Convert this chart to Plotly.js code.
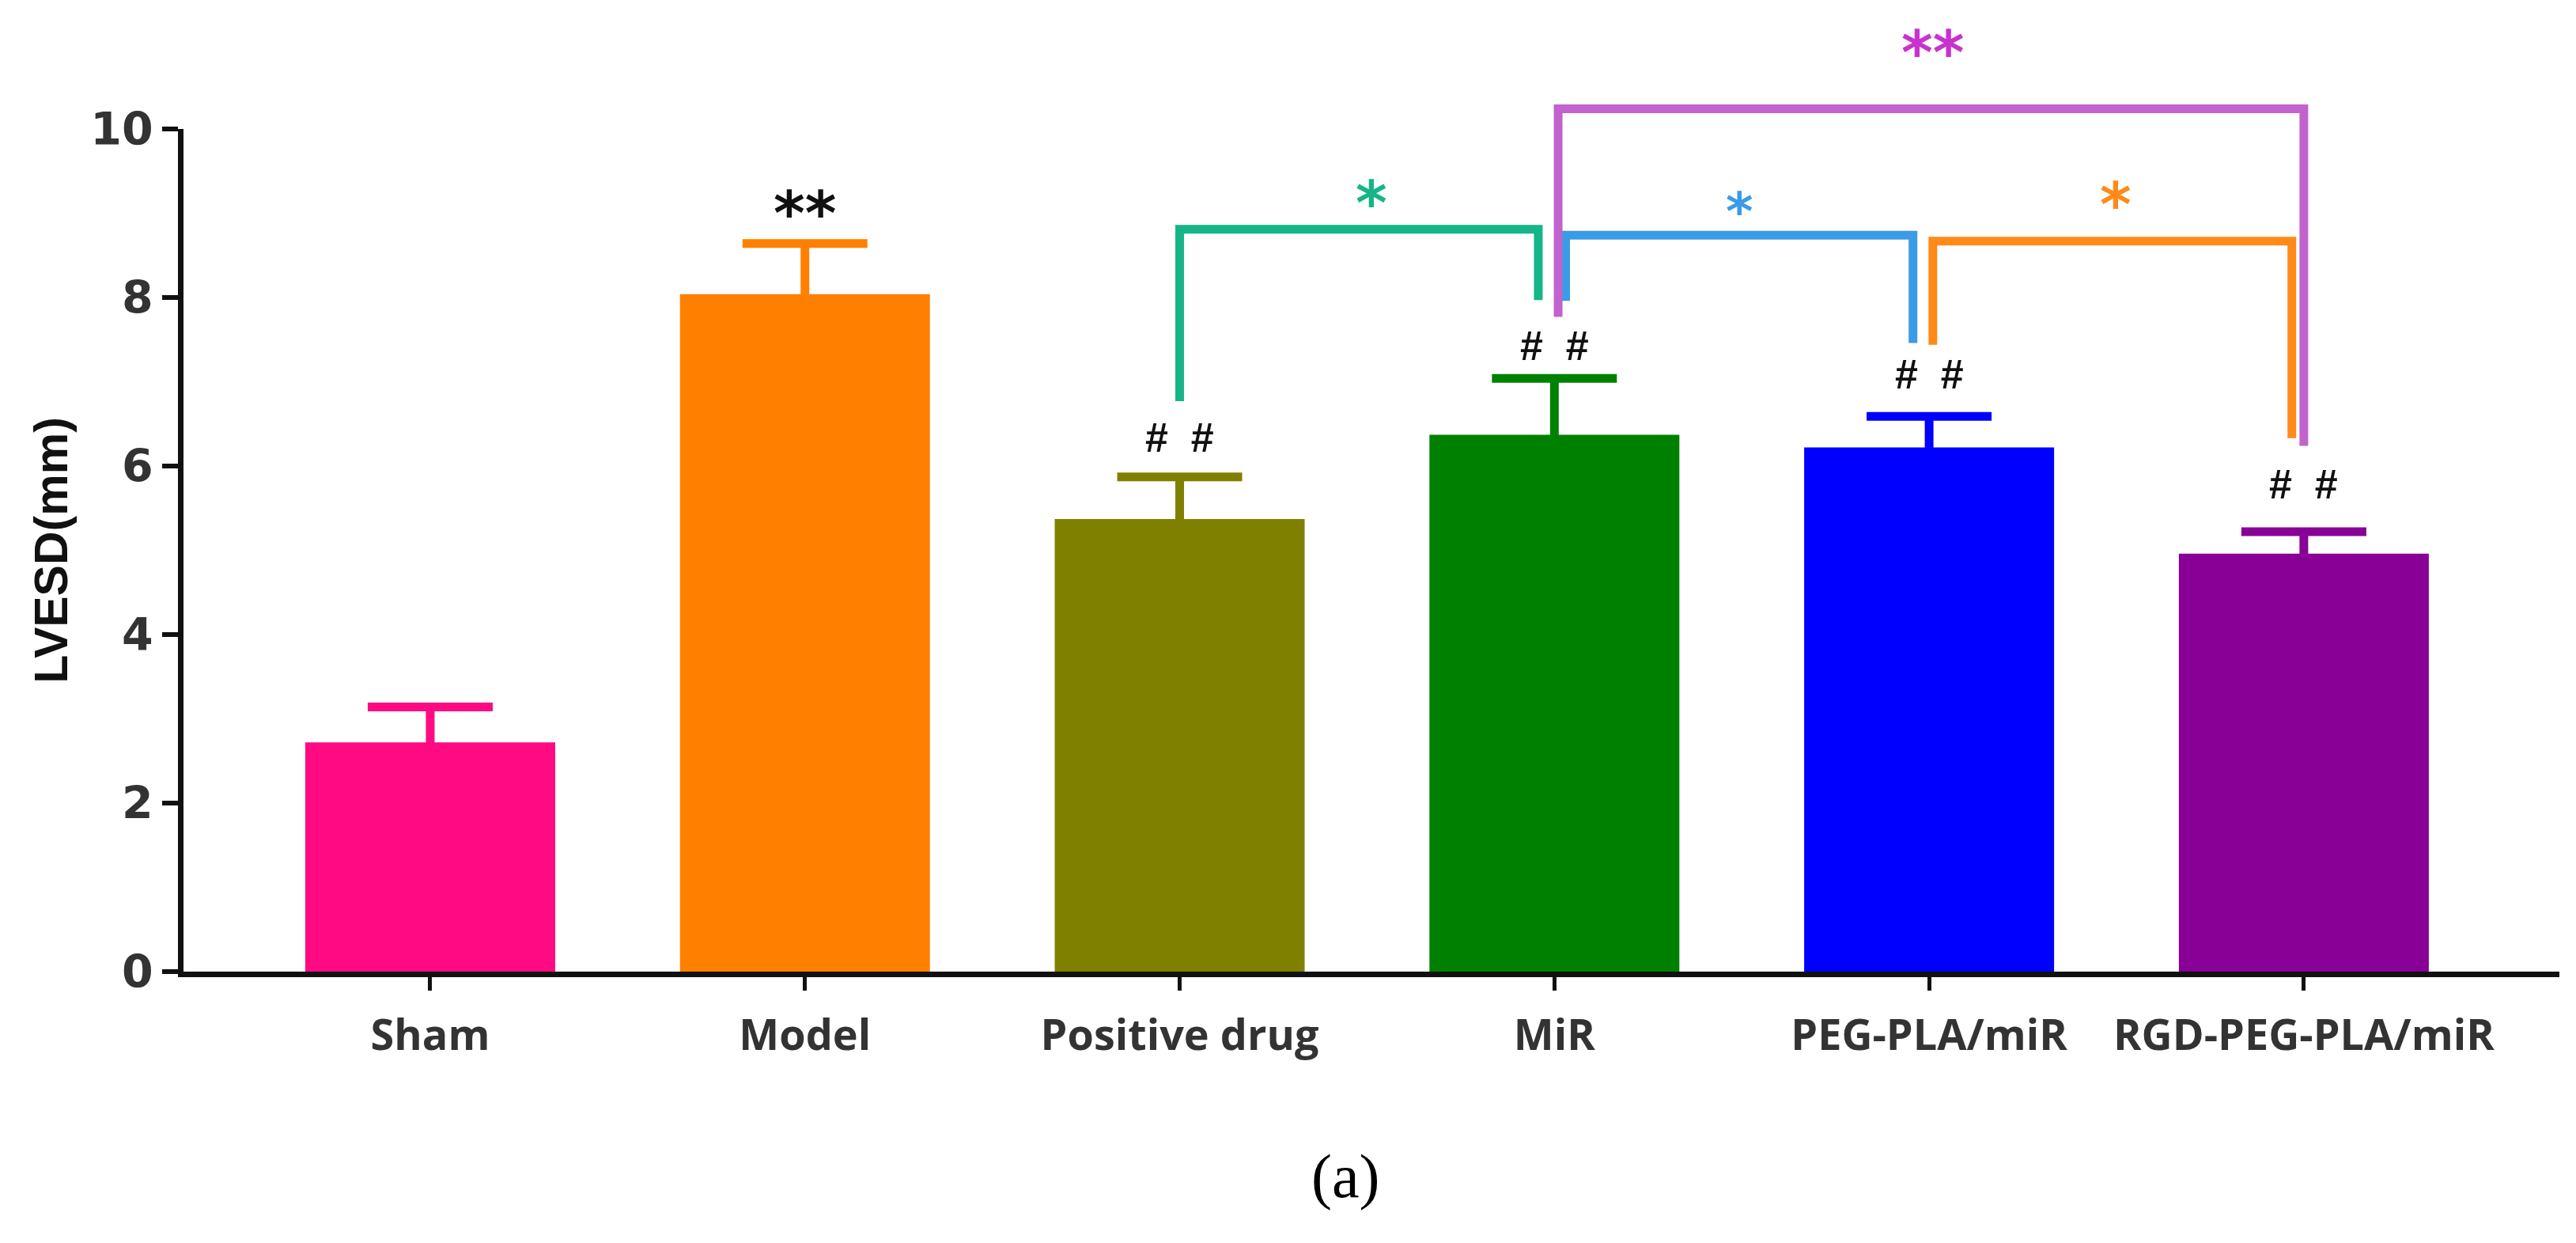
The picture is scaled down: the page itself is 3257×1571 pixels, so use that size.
<!DOCTYPE html>
<html>
<head>
<meta charset="utf-8">
<script src="https://cdn.plot.ly/plotly-3.0.1.min.js"></script>
<style>html,body{margin:0;padding:0;background:#fff;}</style>
</head>
<body>
<div id="chart" style="width:3257px;height:1571px;"></div>
<script>
// ---- data ----
const categories = ['Sham', 'Model', 'Positive drug', 'MiR', 'PEG-PLA/miR', 'RGD-PEG-PLA/miR'];
const means = [2.72, 8.04, 5.37, 6.37, 6.22, 4.96];
const errors = [0.42, 0.60, 0.50, 0.67, 0.37, 0.26];
const barColors = ['#FF0A82', '#FF8000', '#808000', '#008000', '#0000FF', '#880096'];

// markers above bars (vs sham / vs model)
const markTexts = ['', '**', '#\u00A0\u00A0#', '#\u00A0\u00A0#', '#\u00A0\u00A0#', '#\u00A0\u00A0#'];
const markLevels = [null, 9.15, 6.34, 7.43, 7.09, 5.78];

// comparison brackets (x in category index, y in LVESD units)
const bracketStart = [2.0, 3.03, 4.01, 3.01];
const bracketEnd = [2.957, 3.957, 4.968, 5.0];
const bracketTop = [8.81, 8.74, 8.67, 10.24];
const bracketLeftEnd = [6.77, 7.96, 7.44, 7.77];
const bracketRightEnd = [7.97, 7.46, 6.33, 6.24];
const bracketColors = ['#15B588', '#3A9BE6', '#FF8A1A', '#C262CC'];
const bracketTexts = ['*', '*', '*', '**'];
const bracketTextColors = ['#15B588', '#3A9BE6', '#FF8A1A', '#C832CF'];
const bracketTextX = [2.512, 3.495, 4.498, 4.01];
const bracketTextY = [9.27, 9.17, 9.25, 11.06];
const bracketTextSize = [76, 66, 76, 76];

const yTicks = [0, 2, 4, 6, 8, 10];
const yMax = 10;

// ---- traces ----
const traces = categories.map((c, i) => ({
  type: 'bar',
  x: [c],
  y: [means[i]],
  width: 0.667,
  marker: {color: barColors[i], line: {width: 0}},
  error_y: {
    type: 'data', symmetric: true, array: [errors[i]],
    color: barColors[i], thickness: 11, width: 79
  },
  showlegend: false,
  hoverinfo: 'x+y'
}));

// ---- shapes ----
const shapes = bracketStart.map((x0, i) => ({
  type: 'path', xref: 'x', yref: 'y domain',
  path: 'M' + x0 + ',' + (bracketLeftEnd[i] / yMax) +
        ' L' + x0 + ',' + (bracketTop[i] / yMax) +
        ' L' + bracketEnd[i] + ',' + (bracketTop[i] / yMax) +
        ' L' + bracketEnd[i] + ',' + (bracketRightEnd[i] / yMax),
  line: {color: bracketColors[i], width: 11},
  layer: 'above'
}));

// ---- annotations ----
const annotations = [];
categories.forEach((c, i) => {
  if (!markTexts[i]) return;
  const star = markTexts[i].indexOf('*') >= 0;
  annotations.push({
    xref: 'x', yref: 'y domain', x: i, y: markLevels[i] / yMax,
    text: markTexts[i], showarrow: false, xanchor: 'center', yanchor: 'middle',
    yshift: star ? -16 : 0,
    font: star ? {family: 'DejaVu Sans', size: 76, weight: 700, color: '#111'}
               : {family: 'Liberation Sans, Arial', size: 52, weight: 700, color: '#111'}
  });
});
bracketTexts.forEach((t, i) => {
  annotations.push({
    xref: 'x', yref: 'y domain', x: bracketTextX[i], y: bracketTextY[i] / yMax,
    text: t, showarrow: false, xanchor: 'center', yanchor: 'middle', yshift: -16,
    font: {family: 'DejaVu Sans', size: bracketTextSize[i], weight: 700, color: bracketTextColors[i]}
  });
});
annotations.push({
  xref: 'paper', yref: 'paper', x: 0.4893, y: -0.243, text: '(a)', showarrow: false,
  xanchor: 'center', yanchor: 'middle',
  font: {family: 'Liberation Serif, Times New Roman', size: 78, color: '#000'}
});

const layout = {
  width: 3257, height: 1571,
  margin: {l: 232, r: 21, t: 163, b: 343, pad: 0},
  paper_bgcolor: '#fff', plot_bgcolor: '#fff',
  barmode: 'overlay',
  xaxis: {
    type: 'category', categoryorder: 'array', categoryarray: categories,
    range: [-0.6585, 5.682],
    showline: true, linewidth: 7, linecolor: '#111',
    ticks: 'outside', ticklen: 17, tickwidth: 5, tickcolor: '#111',
    ticklabelstandoff: 10,
    showgrid: false, zeroline: false,
    tickfont: {family: 'Open Sans', size: 54, weight: 700, color: '#333'}
  },
  yaxis: {
    range: [0, yMax], tickvals: yTicks, ticktext: yTicks.map(String),
    showline: true, linewidth: 7, linecolor: '#111',
    ticks: 'outside', ticklen: 20, tickwidth: 6, tickcolor: '#111',
    showgrid: false, zeroline: false,
    tickfont: {family: 'DejaVu Sans', size: 57, weight: 700, color: '#333'},
    title: {text: 'LVESD(mm)', standoff: 12,
            font: {family: 'Liberation Sans', size: 59, weight: 700, color: '#111'}}
  },
  shapes: shapes,
  annotations: annotations
};

Plotly.newPlot('chart', traces, layout, {displayModeBar: false, staticPlot: true});
</script>
</body>
</html>
